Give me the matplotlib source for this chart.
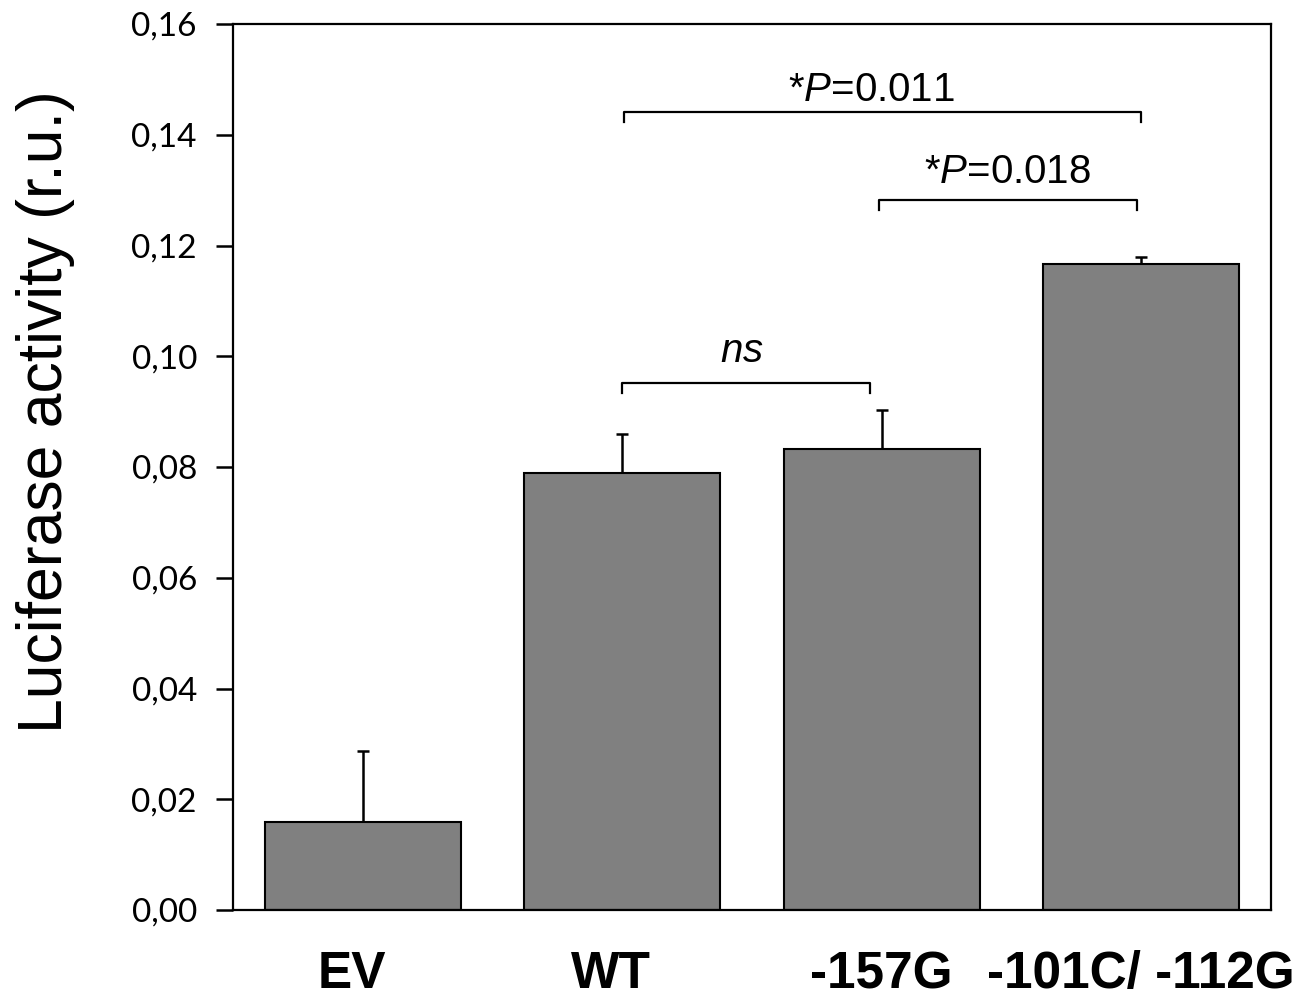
import matplotlib.pyplot as plt
import numpy as np

plt.rcParams["mathtext.fontset"] = "custom"
plt.rcParams["mathtext.it"] = "Liberation Sans:italic"
plt.rcParams["mathtext.rm"] = "Liberation Sans"

categories = ["EV", "WT", "-157G", "-101C/ -112G"]
means = [0.0159, 0.0789, 0.0833, 0.1167]
errors = [0.0128, 0.0071, 0.0070, 0.0012]

yticks = [0.00, 0.02, 0.04, 0.06, 0.08, 0.10, 0.12, 0.14, 0.16]
ytick_labels = ["0,00", "0,02", "0,04", "0,06", "0,08", "0,10", "0,12", "0,14", "0,16"]

# (left bar, right bar, bracket height, text, text x, text y)
comparisons = [
    (1.0, 1.955, 0.0952, "$ns$", 1.46, 0.0990),
    (1.006, 2.998, 0.1441, "*$P$=0.011", 1.961, 0.1461),
    (1.988, 2.983, 0.1282, "*$P$=0.018", 2.486, 0.1313),
]

fig = plt.figure(figsize=(13.03, 9.99), dpi=100)
ax = fig.add_axes([233 / 1303, 89 / 999, 1038 / 1303, 886 / 999])

x = np.arange(len(categories))
ax.bar(x, means, width=0.755, color="#808080", edgecolor="black", linewidth=1.5, zorder=2)
ax.errorbar(x, means, yerr=[np.zeros(len(errors)), errors], fmt="none",
            ecolor="black", elinewidth=1.8, capsize=4.5, capthick=1.8, zorder=1)

for x0, x1, yb, label, tx, ty in comparisons:
    drop = 0.0018
    ax.plot([x0, x0, x1, x1], [yb - drop, yb, yb, yb - drop], color="black", lw=1.6)
    ax.text(tx, ty, label, ha="center", va="baseline", fontsize=29,
            family="Liberation Sans")

ax.set_xlim(-0.5, 3.5)
ax.set_ylim(0, 0.16)
ax.set_yticks(yticks)
ax.set_yticklabels(ytick_labels, family="Lato", fontsize=24)
# category labels sit slightly off-centre in the original
ax.set_xticks(x + np.array([-0.04, -0.045, 0.0, 0.0]))
ax.set_xticklabels(categories, family="Liberation Sans", fontweight="bold", fontsize=37)
ax.tick_params(axis="y", direction="out", length=12, width=1.8, pad=14)
ax.tick_params(axis="x", length=0, pad=29)

for s in ax.spines.values():
    s.set_linewidth(1.6)

ax.set_ylabel("Luciferase activity (r.u.)", family="Liberation Sans", fontsize=45)
ax.yaxis.set_label_coords(-0.152, 0.562)

plt.savefig("out.png", dpi=100)
plt.close()
